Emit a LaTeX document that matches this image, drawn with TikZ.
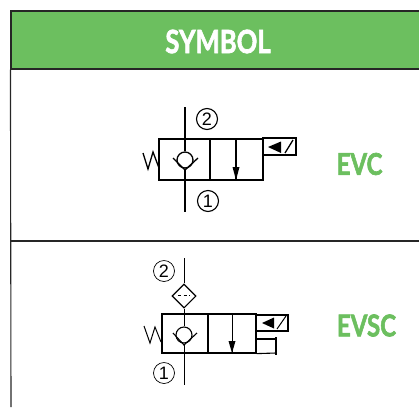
\documentclass[tikz,border=0pt]{standalone}
\usepackage{fontspec}
\setmainfont{Liberation Sans}
\newfontfamily\headfont[BoldFeatures={FakeBold=2.2}]{Lato}
\usetikzlibrary{shapes.geometric}
\definecolor{headgreen}{HTML}{6CBF5F}
\tikzset{
    cellbox/.style={rectangle, draw=black, line width=1.5pt, inner sep=0pt},
    checkball/.style={circle, draw=black, line width=1.3pt, fill=white, inner sep=0pt, minimum size=16pt},
    portmark/.style={circle, draw=black, line width=1.1pt, inner sep=0pt, minimum size=21pt, font=\fontsize{18}{18}\selectfont},
    tagtext/.style={text=headgreen, font=\headfont\bfseries\fontsize{30}{30}\selectfont, xscale=0.8, inner sep=0pt},
    valveline/.style={draw=black, line width=1.3pt},
    tablerule/.style={draw=black!85, line width=1.1pt}
}
\begin{document}
\begin{tikzpicture}[x=1pt, y=-1pt]
    \useasboundingbox (0, 0) rectangle (419, 407);

    % table
    \node[rectangle, fill=headgreen, draw=black!85, line width=1.1pt, minimum width=420pt, minimum height=58pt, inner sep=0pt] (header) at (221, 40) {};
    \node[text=white, font=\headfont\bfseries\fontsize{32}{32}\selectfont, xscale=0.8, inner sep=0pt] (symbol) at (218, 41.5) {SYMBOL};
    \coordinate (rowleft) at (11, 241);
    \coordinate (rowright) at (419, 241);
    \coordinate (tableend) at (11, 407);
    \draw[tablerule] (rowleft) -- (rowright);
    \draw[tablerule] (header.south west) -- (tableend);

    % EVC
    \node[cellbox, minimum width=51pt, minimum height=41pt] (evcleft) at (184.5, 159.5) {};
    \node[cellbox, minimum width=53pt, minimum height=41pt] (evcright) at (236.5, 159.5) {};
    \node[cellbox, minimum width=33pt, minimum height=17pt] (evccoil) at (279.5, 146.5) {};
    \node[checkball] (evcball) at (185, 160) {};
    \node[portmark] (evcmarktwo) at (207, 119) {2};
    \node[portmark] (evcmarkone) at (208, 201) {1};
    \node[tagtext] (evc) at (359.5, 164) {EVC};
    \coordinate (evctop) at (185, 107);
    \coordinate (evcbottom) at (185, 212);
    \coordinate (evcflow) at (236, 139);
    \coordinate (evchead) at (236, 180);

    \draw[valveline] (evctop) -- (evcball);
    \draw[valveline] (evcball) -- (evcbottom);
    \draw[valveline] (173, 158) -- (185, 170) -- (198, 158);
    \draw[valveline] (evcflow) -- (evchead);
    \fill (232.5, 167) -- (239.5, 167) -- (evchead) -- cycle;
    \draw[valveline] (143, 153) -- (148, 169) -- (153, 152) -- (159, 168);
    \fill (268, 147) -- (281, 141.5) -- (281, 153) -- cycle;
    \draw[valveline] (285, 153) -- (293, 140);

    % EVSC
    \node[cellbox, line width=1.2pt, minimum width=46pt, minimum height=39pt] (evscleft) at (185, 333.5) {};
    \node[cellbox, line width=1.2pt, minimum width=48pt, minimum height=39pt] (evscright) at (232, 333.5) {};
    \node[cellbox, line width=1.2pt, minimum width=32pt, minimum height=16pt] (evsccoil) at (272, 323) {};
    \node[checkball, line width=1.1pt] (evscball) at (184, 335) {};
    \node[diamond, draw=black, line width=1.1pt, fill=white, inner sep=0pt, minimum size=24pt] (evscfilter) at (184, 296) {};
    \node[portmark, line width=0.7pt] (evscmarktwo) at (164, 271) {2};
    \node[portmark, line width=0.7pt] (evscmarkone) at (164, 373) {1};
    \node[tagtext] (evsc) at (366.5, 325.5) {EVSC};
    \coordinate (evsctop) at (184, 258);
    \coordinate (evscbottom) at (184, 385);
    \coordinate (evscflow) at (232, 314);
    \coordinate (evschead) at (232, 353);
    \coordinate (evsclever) at (276, 339);
    \coordinate (evscleverend) at (276, 353);

    \draw[valveline, line width=1pt] (evsctop) -- (evscfilter);
    \draw[valveline, line width=1pt] (evscfilter) -- (evscball);
    \draw[valveline, line width=1pt] (evscball) -- (evscbottom);
    \draw[line width=0.6pt, dashed, dash pattern=on 3pt off 2.5pt] (178, 295) -- (190, 295);
    \draw[valveline, line width=1.1pt] (173, 333) -- (184, 345) -- (197, 333);
    \draw[valveline, line width=1pt] (evscflow) -- (evschead);
    \fill (228.5, 341) -- (235.5, 341) -- (evschead) -- cycle;
    \draw[valveline, line width=1pt] (144, 326) -- (150, 343) -- (155, 327) -- (161, 342);
    \fill (262, 323) -- (274, 317.5) -- (274, 328.5) -- cycle;
    \draw[valveline, line width=1pt] (277, 329) -- (286, 316);
    \draw[valveline, line width=1.1pt] (evscright.east |- evsclever) -- (evsclever);
    \draw[valveline, line width=1.1pt] (evscright.south east) -- (evscleverend);
    \draw[line width=1.5pt] (276, 337) -- (276, 355);
\end{tikzpicture}
\end{document}
